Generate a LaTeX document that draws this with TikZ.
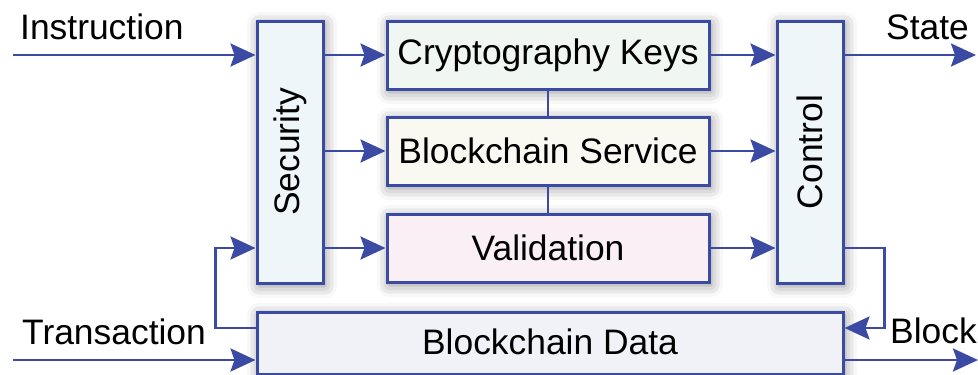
\documentclass[tikz,border=0pt]{standalone}
\usepackage{fontspec}
\setmainfont{Liberation Sans}
\usepackage{graphicx}
\usetikzlibrary{arrows.meta,shadows.blur}
\definecolor{edge}{HTML}{3B4BA3}
\definecolor{fsec}{HTML}{EEF6F9}
\definecolor{fkeys}{HTML}{F0F6F1}
\definecolor{fsvc}{HTML}{F9F9F1}
\definecolor{fval}{HTML}{F9EFF5}
\definecolor{fdata}{HTML}{F1F1F8}
\tikzset{
  blk/.style={draw=edge, line width=3pt, inner sep=0pt,
    blur shadow={shadow xshift=2pt, shadow yshift=-3pt, shadow blur radius=12pt, shadow opacity=45}},
  arr/.style={draw=edge, line width=2.7pt, -{Stealth[length=25pt,width=23pt,inset=4pt]}},
  lnk/.style={draw=edge, line width=2.7pt},
  lbl/.style={anchor=base west, inner sep=0pt}
}
\begin{document}
\begin{tikzpicture}[x=1pt,y=-1pt,font=\fontsize{35.4}{42}\selectfont]
\useasboundingbox (0,0) rectangle (978,375);
% блоки
\node[blk, fill=fsec, minimum width=66, minimum height=262] (sec) at (290,152) {\rotatebox{90}{Security}};
\node[blk, fill=fsec, minimum width=66, minimum height=262] (ctrl) at (810,152) {\rotatebox{90}{Control}};
\node[blk, fill=fkeys, minimum width=322, minimum height=68] (keys) at (548,55) {Cryptography Keys};
\node[blk, fill=fsvc, minimum width=322, minimum height=68] (svc) at (548,151) {Blockchain Service};
\node[blk, fill=fval, minimum width=322, minimum height=68] (val) at (548,248) {Validation};
\node[blk, fill=fdata, minimum width=586, minimum height=62] (data) at (550,343) {\raisebox{3pt}{Blockchain Data}};
% входы и выходы
\coordinate (ins) at (13,55);
\coordinate (tx) at (13,360);
\coordinate (st) at (976,55);
\coordinate (blk) at (978,360);
\coordinate (fb) at (0,328);
% подписи
\node[lbl] (tins) at (20,39) {Instruction};
\node[lbl] (tst) at (886,39) {State};
\node[lbl] (ttx) at (22,344) {Transaction};
\node[lbl] (tblk) at (890,343) {Block};
% связи
\draw[lnk] (keys) -- (svc);
\draw[lnk] (svc) -- (val);
\draw[arr] (ins) -- (ins -| sec.west);
\draw[arr] (tx) -- (tx -| data.west);
\foreach \b in {keys,svc,val}{
  \draw[arr] (\b -| sec.east) -- (\b.west);
  \draw[arr] (\b.east) -- (\b -| ctrl.west);
}
\draw[arr] (keys -| ctrl.east) -- (st);
\draw[arr] (data.east |- blk) -- (blk);
% обратные связи
\draw[arr] (fb -| data.west) -- ++(-40,0) |- (val -| sec.west);
\draw[arr] (val -| ctrl.east) -- ++(40,0) |- (fb -| data.east);
\end{tikzpicture}
\end{document}
